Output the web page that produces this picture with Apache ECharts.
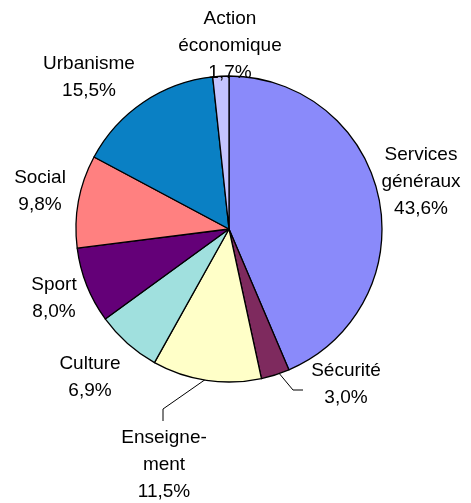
<!DOCTYPE html>
<html><head><meta charset="utf-8">
<script src="https://cdn.jsdelivr.net/npm/echarts@6/dist/echarts.min.js"></script>
<style>html,body{margin:0;padding:0;background:#fff}#c{width:471px;height:503px}</style>
</head><body><div id="c"></div>
<script>
const categories = ['Services\ngénéraux', 'Sécurité', 'Enseigne-\nment', 'Culture', 'Sport', 'Social', 'Urbanisme', 'Action\néconomique'];
const values = [43.6, 3.0, 11.5, 6.9, 8.0, 9.8, 15.5, 1.7];
const valueLabels = ['43,6%', '3,0%', '11,5%', '6,9%', '8,0%', '9,8%', '15,5%', '1,7%'];
const colors = ['#8A8AFA', '#7E2A5E', '#FFFFC8', '#A0E0DE', '#640078', '#FF8080', '#0A80C4', '#C4C4FF'];

// label block centres (layout only)
const labelPos = [[421, 182], [346, 384], [164, 465], [90, 377], [54, 298], [40, 191], [89, 77], [230, 46]];
const leaderLines = {
  1: [[278, 372], [293, 390], [303, 390]],
  2: [[206, 379], [163, 409], [163, 421]]
};

const chart = echarts.init(document.getElementById('c'));
chart.setOption({
  animation: false,
  series: [{
    type: 'pie',
    center: [229, 229],
    radius: 153,
    startAngle: 90,
    clockwise: true,
    avoidLabelOverlap: false,
    data: categories.map((n, i) => ({ name: n, value: values[i], itemStyle: { color: colors[i] } })),
    itemStyle: { borderColor: '#000', borderWidth: 1.3 },
    label: {
      show: true,
      position: 'outside',
      formatter: p => p.name + '\n' + valueLabels[p.dataIndex],
      fontFamily: 'Liberation Sans, Arial, sans-serif',
      fontSize: 19,
      lineHeight: 27,
      color: '#000',
      align: 'center'
    },
    labelLine: { show: true, lineStyle: { color: '#000', width: 1 }, length: 10, length2: 10 },
    labelLayout: function (params) {
      const i = params.dataIndex;
      const pos = labelPos[i];
      const out = { x: pos[0], y: pos[1], align: 'center', verticalAlign: 'middle' };
      if (leaderLines[i]) out.labelLinePoints = leaderLines[i];
      else out.labelLinePoints = [[0, 0], [0, 0], [0, 0]];
      return out;
    },
    emphasis: { disabled: true }
  }]
});
</script></body></html>
